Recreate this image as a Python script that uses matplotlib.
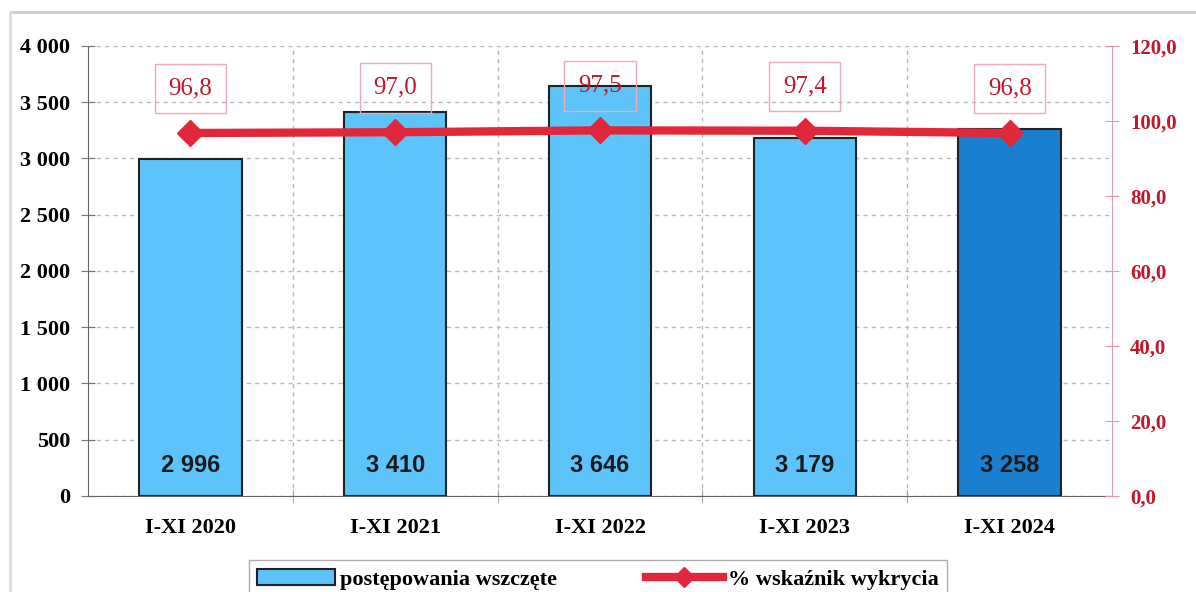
import matplotlib
matplotlib.use('Agg')
import matplotlib.pyplot as plt
from matplotlib.ticker import FuncFormatter
from matplotlib.patches import Rectangle
import numpy as np

# data
categories = ['I-XI 2020', 'I-XI 2021', 'I-XI 2022', 'I-XI 2023', 'I-XI 2024']
cases = [2996, 3410, 3646, 3179, 3258]
detection = [96.8, 97.0, 97.5, 97.4, 96.8]
bar_labels = ['2 996', '3 410', '3 646', '3 179', '3 258']
det_labels = ['96,8', '97,0', '97,5', '97,4', '96,8']

light_blue = '#5cc3fb'
dark_blue = '#1b7fd0'
red = '#e0283a'
label_red = '#c0182a'

plt.rcParams['font.family'] = ['Liberation Serif', 'DejaVu Serif']

fig = plt.figure(figsize=(11.96, 5.92), dpi=100)
ax = fig.add_axes([0.0736, 0.1622, 0.8562, 0.7601])

x = np.arange(len(categories))
colors = [light_blue] * 4 + [dark_blue]
ax.bar(x, cases, width=0.5, color=colors, edgecolor='#222222', linewidth=1.5, zorder=2)
for xi, lab in zip(x, bar_labels):
    ax.text(xi, 270, lab, ha='center', va='center', fontsize=17, fontweight='bold',
            family='Liberation Sans', color='#1a1a1a', zorder=5)

ax.set_xlim(-0.5, 4.5)
ax.set_ylim(0, 4000)
ax.set_yticks(np.arange(0, 4001, 500))
ax.yaxis.set_major_formatter(FuncFormatter(lambda v, p: f'{int(v):,}'.replace(',', ' ')))
ax.set_xticks(x)
ax.set_xticklabels(categories, fontsize=16, fontweight='bold')
ax.tick_params(axis='x', length=0, pad=16)
ax.tick_params(axis='y', direction='inout', length=10, color='#777777', labelsize=16, pad=8)
for lab in ax.get_yticklabels():
    lab.set_fontweight('bold')

# grid lines
ax.set_xticks(np.arange(0.5, 4.5, 1), minor=True)
ax.tick_params(axis='x', which='minor', direction='inout', length=10, color='#999999')
ax.grid(axis='y', which='major', linestyle=(0, (3, 3)), color='#bbbbbb', linewidth=1, zorder=0)
ax.grid(axis='x', which='minor', linestyle=(0, (3, 3)), color='#bbbbbb', linewidth=1, zorder=0)
ax.set_axisbelow(True)

for s in ['top', 'right']:
    ax.spines[s].set_visible(False)
ax.spines['left'].set_color('#666666')
ax.spines['bottom'].set_color('#666666')

ax2 = ax.twinx()
ax2.set_ylim(0, 120)
ax2.set_yticks(np.arange(0, 121, 20))
ax2.yaxis.set_major_formatter(FuncFormatter(lambda v, p: f'{v:.1f}'.replace('.', ',')))
ax2.tick_params(axis='y', direction='inout', length=10, color='#e59aa8', labelsize=15,
                labelcolor=label_red, pad=8)
for lab in ax2.get_yticklabels():
    lab.set_fontweight('bold')
for s in ['top', 'left', 'bottom']:
    ax2.spines[s].set_visible(False)
ax2.spines['right'].set_color('#e59aa8')

ax2.plot(x, detection, color=red, linewidth=6, marker='D', markersize=13,
         markeredgecolor=red, zorder=4, solid_capstyle='butt')
for xi, v, lab in zip(x, detection, det_labels):
    ax2.annotate(lab, (xi, v), xytext=(0, 32), textcoords='offset points',
                 ha='center', va='center', fontsize=18, color=label_red,
                 bbox=dict(boxstyle='square,pad=0.55', fc='none', ec='#f0a8b4', lw=1))

# legend
h_bar = Rectangle((0, 0), 1, 1, fc=light_blue, ec='#222222', lw=1.5)
h_line, = ax2.plot([], [], color=red, linewidth=6, marker='D', markersize=10)
leg = fig.legend([h_bar, h_line], ['postępowania wszczęte', '% wskaźnik wykrycia'],
                 loc='lower center', bbox_to_anchor=(0.5, -0.03), ncol=2,
                 frameon=True, fancybox=False, edgecolor='#999999',
                 prop={'weight': 'bold', 'size': 16}, handlelength=3.5,
                 columnspacing=4, borderpad=0.4, handletextpad=0.2)

# outer frame of the chart area
fig.add_artist(plt.Line2D([0.008, 1.0], [0.98, 0.98], color='#cccccc', lw=2))
fig.add_artist(plt.Line2D([0.008, 0.008], [0.0, 0.98], color='#dddddd', lw=2))

fig.savefig('out.png', dpi=100)
